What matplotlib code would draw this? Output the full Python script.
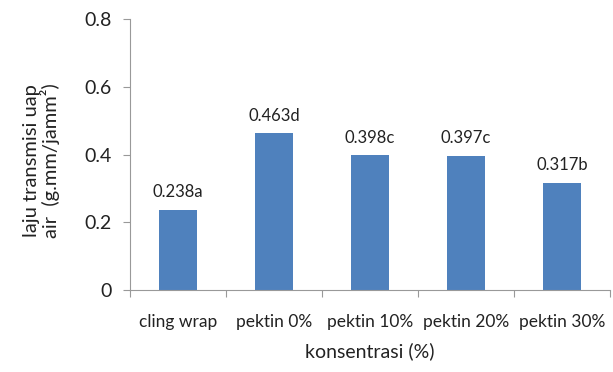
import matplotlib
matplotlib.use('Agg')
import matplotlib.pyplot as plt
import numpy as np

# laju transmisi uap air per perlakuan
categories = ['cling wrap', 'pektin 0%', 'pektin 10%', 'pektin 20%', 'pektin 30%']
values = [0.238, 0.463, 0.398, 0.397, 0.317]
letters = ['a', 'd', 'c', 'c', 'b']

plt.rcParams['font.family'] = ['Lato', 'DejaVu Sans']
txt = '#222222'

fig = plt.figure(figsize=(6.13, 3.72), dpi=100)
ax = fig.add_axes([0.212, 0.22, 0.783, 0.728])

x = np.arange(len(categories))
bars = ax.bar(x, values, width=0.4, color='#4F81BD')

# value + notation letter above each bar
for xi, v, l in zip(x, values, letters):
  ax.annotate(f'{v:.3f}{l}', (xi, v), xytext=(0, 7), textcoords='offset points',
              ha='center', va='bottom', fontsize=12, color=txt)

ax.set_xlim(-0.5, len(categories) - 0.5)
ax.set_ylim(0, 0.8)
ax.set_yticks([0, 0.2, 0.4, 0.6, 0.8])
ax.set_yticklabels(['0', '0.2', '0.4', '0.6', '0.8'])

# ticks between categories, labels centred under bars
ax.set_xticks(np.arange(len(categories) + 1) - 0.5)
ax.set_xticklabels([])
ax.set_xticks(x, minor=True)
ax.set_xticklabels(categories, minor=True)
ax.tick_params(axis='x', which='minor', length=0, pad=17, labelsize=12.5, colors=txt)
ax.tick_params(axis='x', which='major', length=5, color='#999999')
ax.tick_params(axis='y', length=5, color='#999999', labelsize=14, labelcolor=txt, pad=8)

for side in ['top', 'right']:
  ax.spines[side].set_visible(False)
for side in ['left', 'bottom']:
  ax.spines[side].set_color('#999999')

ax.set_xlabel('konsentrasi (%)', fontsize=14, color=txt, labelpad=9)
ax.set_ylabel('laju transmisi uap\nair  (g.mm/jamm²)', fontsize=14.5, color=txt,
              linespacing=1.05)
ax.yaxis.set_label_coords(-0.145, 0.48)

fig.savefig('out.png', dpi=100)
